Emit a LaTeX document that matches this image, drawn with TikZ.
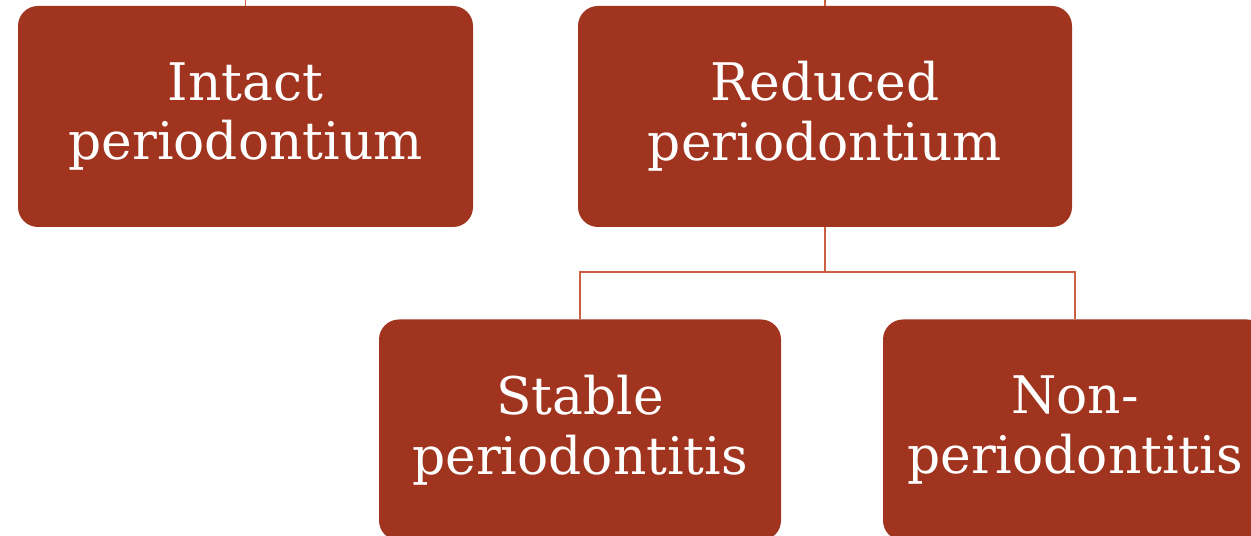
\documentclass[tikz,border=0pt]{standalone}
\usepackage{fontspec}
\setmainfont{DejaVu Serif}
\usepackage{xcolor}
\usetikzlibrary{calc}

\definecolor{boxred}{RGB}{160,52,30}
\definecolor{linkred}{RGB}{205,95,65}

\tikzset{
	stagebox/.style={fill=boxred, rounded corners=0.4cm, align=center,
		text=white, inner sep=0pt,
		font=\fontsize{29.5}{34}\selectfont},
	link/.style={draw=linkred, line width=0.6pt}
}

\begin{document}
\begin{tikzpicture}[x=0.02cm,y=-0.02cm]
			
			% frame of the picture
			\useasboundingbox (0,0) rectangle (1251,536);
			\clip (0,0) rectangle (1251,536);
			
			% upper row
			\node[stagebox, minimum width=455*0.02cm, minimum height=221*0.02cm]
				(intact) at (245.5,116.5) {Intact\\periodontium};
			\node[stagebox, minimum width=494*0.02cm, minimum height=221*0.02cm]
				(reduced) at (825,116.5) {Reduced\\periodontium};
			
			% lower row
			\node[stagebox, minimum width=402*0.02cm, minimum height=221*0.02cm]
				(stable) at (580,430) {Stable\\periodontitis};
			\node[stagebox, minimum width=384*0.02cm, minimum height=221*0.02cm]
				(nonperio) at (1075,430) {Non-\\periodontitis};
			
			% links to the level above
			\coordinate (intacttop) at (245.5,0);
			\coordinate (reducedtop) at (825,0);
			\draw[link] (intact.north) -- (intacttop);
			\draw[link] (reduced.north) -- (reducedtop);
			
			% branch below reduced periodontium
			\coordinate (fork) at (825,272);
			\draw[link] (reduced.south) -- (fork);
			\draw[link] (fork) -| (stable.north);
			\draw[link] (fork) -| (nonperio.north);
			
		\end{tikzpicture}
\end{document}
